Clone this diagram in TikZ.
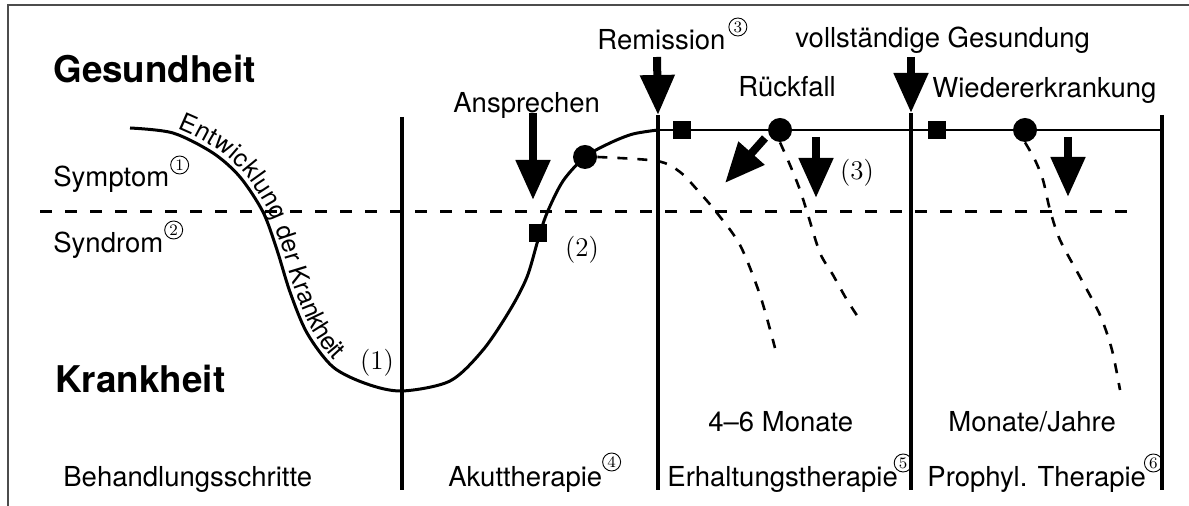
\documentclass[tikz,border=0pt]{standalone}
\usepackage{fontspec}
\setsansfont{TeX Gyre Heros}
\usetikzlibrary{calc, positioning}
\usetikzlibrary{arrows.meta}
\usetikzlibrary{decorations.text}

\tikzset{
  lbl/.style={font=\sffamily\fontsize{13.75}{16}\selectfont, inner sep=0pt},
  biglbl/.style={font=\sffamily\bfseries\fontsize{18.4}{21}\selectfont, inner sep=0pt},
  circnum/.style={circle, draw, line width=0.45pt, minimum size=9pt, inner sep=0pt, font=\rmfamily\fontsize{8}{8}\selectfont},
  parnum/.style={font=\rmfamily\fontsize{13.5}{15}\selectfont, inner sep=0pt},
  bigarrow/.style={line width=4pt, -{Triangle[width=16.5pt, length=20pt]}},
  sqmark/.style={fill, minimum size=9pt, inner sep=0pt},
  dotmark/.style={circle, fill, minimum size=12pt, inner sep=0pt},
  phase/.style={line width=1.7pt},
  course/.style={line width=1.5pt},
  relapse/.style={line width=1.3pt, dash pattern=on 5pt off 5pt},
}

\begin{document}
\begin{tikzpicture}[x=0.5pt, y=-0.5pt]
\useasboundingbox (0,0) rectangle (1189,506);

% frame
\draw[line width=0.6pt, black!70] (1189,5) -- (8,5) -- (8,506);

% phase boundaries
\foreach \n/\x/\t in {1/402/117, 2/658/115, 3/911/113, 4/1162/115} {
  \coordinate (v\n t) at (\x,\t);
  \coordinate (v\n b) at (\x,490);
  \draw[phase] (v\n t) -- (v\n b);
}

% symptom threshold
\coordinate (thrL) at (40,212);
\coordinate (thrR) at (1138,212);
\draw[line width=1.5pt, dash pattern=on 6pt off 6.5pt] (thrL) -- (thrR);

% healthy level
\coordinate (hl) at (658,130);
\coordinate (hr) at (1162,130);
\draw[line width=1pt] (hl) -- (hr);

% course of the illness
\draw[course] plot[smooth] coordinates {(130,128) (173,133) (213,153) (240,177) (263,212) (277,250)
  (290,292) (307,333) (333,367) (367,384) (402,391) (450,381) (483,350) (510,310) (527,277)
  (538,240) (547,213) (563,181) (585,157) (610,143) (633,134) (658,130)};
\path[decorate, decoration={text along path, raise=2.8pt, text align={left indent=23pt},
  text={|\sffamily\fontsize{12.5}{14}\selectfont|Entwicklung der Krankheit}}]
  plot[smooth] coordinates {(130,128) (173,133) (213,153) (240,177) (263,212) (277,250)
  (290,292) (307,333) (333,367) (367,384) (402,391)};

% markers
\node[sqmark] (sq1) at (538,233) {};
\node[dotmark] (dot1) at (585,157) {};
\node[sqmark] (sq2) at (682,130) {};
\node[dotmark] (dot2) at (780,130) {};
\node[sqmark] (sq3) at (937,130) {};
\node[dotmark] (dot3) at (1025,130) {};

% relapses
\draw[relapse] plot[smooth] coordinates {(dot1.east) (657,161) (680,172) (700,193) (717,213)
  (740,245) (760,295) (775,348)};
\draw[relapse] plot[smooth] coordinates {(dot2.south) (790,165) (800,190) (808,215) (820,253)
  (833,275) (847,300) (862,323)};
\draw[relapse] plot[smooth] coordinates {(dot3.south) (1035,160) (1043,180) (1050,210)
  (1060,240) (1080,277) (1100,315) (1112,350) (1120,390)};

% arrows
\coordinate (anspT) at (533,113);  \coordinate (anspB) at (533,200);
\coordinate (remT) at (657,57);    \coordinate (remB) at (v2t);
\coordinate (vollT) at (911,57);   \coordinate (vollB) at (v3t);
\coordinate (rueckT) at (765,138); \coordinate (rueckB) at (725,183);
\coordinate (drei) at (816,137);   \coordinate (dreiB) at (816,198);
\coordinate (wied) at (1068,137);  \coordinate (wiedB) at (1068,197);
\draw[bigarrow] (anspT) -- (anspB);
\draw[bigarrow] (remT) -- (remB);
\draw[bigarrow] (vollT) -- (vollB);
\draw[bigarrow] (rueckT) -- (rueckB);
\draw[bigarrow] (drei) -- (dreiB);
\draw[bigarrow] (wied) -- (wiedB);

% left labels
\node[biglbl, anchor=base west] (gesund) at (53,83) {Gesundheit};
\node[lbl, anchor=base west] (symptom) at (53,187) {Symptom};
\node[lbl, anchor=base west] (syndrom) at (53,253) {Syndrom};
\node[biglbl, anchor=base west] (krank) at (55,393) {Krankheit};
\node[lbl, anchor=base west] (schritte) at (63,487) {Behandlungsschritte};

% event labels
\node[lbl, anchor=base west] (ansp) at (453,113) {Ansprechen};
\node[lbl, anchor=base west] (remis) at (597,50) {Remission};
\node[lbl, anchor=base west] (rueck) at (738,97) {Rückfall};
\node[lbl, anchor=base west] (voll) at (795,48) {vollständige Gesundung};
\node[lbl, anchor=base west] (wieder) at (932,98) {Wiedererkrankung};

% durations
\node[lbl, anchor=base west] (dauer1) at (708,432) {4--6 Monate};
\node[lbl, anchor=base west] (dauer2) at (948,432) {Monate/Jahre};

% therapy phases
\node[lbl, anchor=base west] (akut) at (448,487) {Akuttherapie};
\node[lbl, anchor=base west] (erhalt) at (667,487) {Erhaltungstherapie};
\node[lbl, anchor=base west] (prophyl) at (927,487) {Prophyl. Therapie};

% circled numbers
\node[circnum] (c1) at ($(symptom.base east)+(10,-22)$) {1};
\node[circnum] (c2) at ($(syndrom.base east)+(10,-23)$) {2};
\node[circnum] (c3) at ($(remis.base east)+(12,-23)$) {3};
\node[circnum] (c4) at ($(akut.base east)+(9,-25)$) {4};
\node[circnum] (c5) at ($(erhalt.base east)+(5,-24)$) {5};
\node[circnum] (c6) at ($(prophyl.base east)+(7,-24)$) {6};

% stages
\node[parnum] (p1) at (377,363) {(1)};
\node[parnum] (p2) at (582,250) {(2)};
\node[parnum] (p3) at (857,173) {(3)};
\end{tikzpicture}
\end{document}
